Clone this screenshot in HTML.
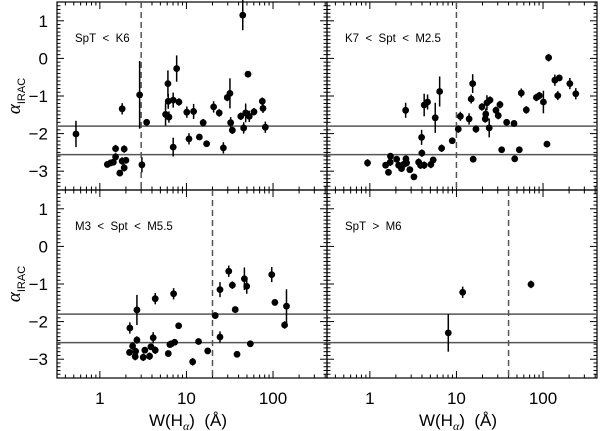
<!DOCTYPE html>
<html><head><meta charset="utf-8"><style>
html,body{margin:0;padding:0;background:#fff;}
svg{display:block;font-family:"Liberation Sans",sans-serif;}
</style></head><body>
<svg id="chart" width="600" height="431" viewBox="0 0 600 431"></svg>
<script>
// ---- data ----
const panelLabels = ["SpT\u00a0\u00a0<\u00a0\u00a0K6", "K7\u00a0\u00a0<\u00a0\u00a0Spt\u00a0\u00a0<\u00a0\u00a0M2.5", "M3\u00a0\u00a0<\u00a0\u00a0Spt\u00a0\u00a0<\u00a0\u00a0M5.5", "SpT\u00a0\u00a0>\u00a0\u00a0M6"];
const cutoffW = [3, 10, 20, 40];
const hLines = [-1.8, -2.56];
const yTickValues = [1, 0, -1, -2, -3];
const xTickValues = [1, 10, 100];
const xTickLabels = ["1", "10", "100"];

const p1W = [0.53,1.22,1.33,1.43,1.52,1.52,1.70,1.81,1.91,1.91,2.0,1.81,2.88,3.06,3.47,5.74,6.11,6.16,6.28,7.03,7.71,8.19,7.03,10.1,10.7,12.1,14.1,15.6,17.1,20.6,23.9,26.7,29.6,31.8,32.4,33.9,42.4,44.7,45.8,48.3,51.4,53.2,60.3,75.2,76.6,81.5];
const p1A = [-2.01,-2.82,-2.78,-2.76,-2.40,-2.62,-3.05,-2.73,-2.91,-2.41,-2.71,-1.34,-0.97,-2.83,-1.70,-1.49,-0.67,-1.14,-1.56,-1.11,-0.27,-1.16,-2.36,-1.43,-2.14,-1.41,-2.09,-1.71,-2.27,-1.29,-1.45,-2.38,-1.04,-0.93,-1.71,-1.91,-1.54,1.15,-1.85,-1.45,-0.42,-1.54,-1.42,-1.14,-1.33,-1.83];
const p1E = [0.35,0.05,0.08,0.05,0.1,0.1,0.05,0.1,0.1,0.1,0.05,0.15,0.9,0.2,0.05,0.3,0.35,0.2,0.15,0.2,0.35,0.1,0.25,0.15,0.15,0.2,0.05,0.1,0.05,0.15,0.1,0.15,0.1,0.4,0.15,0.1,0.1,0.4,0.15,0.25,0.05,0.15,0.1,0.1,0.12,0.15];

const p2W = [0.94,1.52,1.64,1.73,1.72,2.04,2.15,2.32,2.45,2.61,2.59,2.66,2.90,3.23,3.66,3.85,3.96,3.99,4.24,4.24,4.64,5.07,5.39,5.69,6.40,6.74,8.94,10.5,11.1,14.0,14.8,15.4,15.6,16.8,19.7,21.5,21.8,22.5,23.9,24.4,28.6,30.4,31.8,33.3,38.0,46.2,47.1,53.2,56.1,64.1,83.7,90.6,101,111,116,137,148,154,204,239];
const p2A = [-2.78,-2.84,-3.03,-2.60,-2.76,-2.68,-2.84,-2.93,-2.82,-2.67,-1.38,-2.78,-2.96,-3.15,-2.76,-2.84,-2.10,-2.52,-1.24,-2.84,-1.16,-2.82,-2.70,-1.58,-0.88,-2.39,-2.19,-1.88,-1.54,-1.61,-1.08,-0.67,-2.68,-1.88,-1.29,-1.61,-1.48,-1.18,-1.85,-1.11,-1.38,-1.52,-1.23,-2.43,-1.70,-1.73,-2.67,-2.43,-0.92,-1.37,-1.04,-0.99,-1.16,-2.28,0.02,-0.58,-0.99,-0.52,-0.67,-0.94];
const p2E = [0.1,0.05,0.05,0.05,0.1,0.05,0.05,0.05,0.1,0.05,0.2,0.1,0.05,0.05,0.1,0.1,0.2,0.1,0.3,0.1,0.2,0.1,0.05,0.4,0.4,0.1,0.05,0.1,0.12,0.15,0.12,0.25,0.05,0.1,0.1,0.1,0.15,0.2,0.25,0.1,0.1,0.1,0.1,0.05,0.05,0.05,0.05,0.05,0.12,0.1,0.1,0.1,0.3,0.05,0.1,0.15,0.12,0.05,0.15,0.15];

const p3W = [2.20,2.22,2.39,2.56,2.59,2.68,2.68,3.17,3.31,3.75,3.89,4.13,4.36,4.36,6.17,6.44,6.68,7.31,7.11,8.13,11.8,13.8,17.6,21.5,24.4,24.4,30.8,33.9,36.6,38.4,46.7,49.7,54.7,96.6,105,136,143];
const p3A = [-2.82,-2.17,-2.65,-2.93,-2.79,-1.69,-2.49,-2.95,-2.76,-2.92,-2.67,-2.43,-2.76,-1.39,-2.85,-2.61,-2.59,-2.55,-1.26,-2.11,-3.07,-2.53,-2.78,-1.84,-2.41,-1.15,-0.66,-1.03,-1.68,-2.87,-0.86,-1.06,-2.59,-0.75,-1.49,-2.09,-1.59];
const p3E = [0.05,0.15,0.1,0.1,0.05,0.4,0.1,0.1,0.05,0.1,0.05,0.15,0.1,0.15,0.05,0.05,0.05,0.05,0.15,0.05,0.1,0.05,0.05,0.05,0.15,0.2,0.15,0.1,0.05,0.05,0.3,0.2,0.05,0.2,0.05,0.1,0.45];

const p4W = [8.05, 11.8, 72.6];
const p4A = [-2.30, -1.22, -1.01];
const p4E = [0.5, 0.15, 0.1];

const panelData = [[p1W,p1A,p1E],[p2W,p2A,p2E],[p3W,p3A,p3E],[p4W,p4A,p4E]];

// ---- layout ----
const NS = "http://www.w3.org/2000/svg";
const svg = document.getElementById("chart");
const colsX = [57, 327], colW = 270;
const rowsY = [2, 190], rowH = 188;
const xMinLog = Math.log10(0.32), xMaxLog = Math.log10(420);
const yMin = -3.5, yMax = 1.5;

function mk(tag, attrs, parent) {
  const e = document.createElementNS(NS, tag);
  for (const k in attrs) e.setAttribute(k, attrs[k]);
  (parent || svg).appendChild(e);
  return e;
}

panelData.forEach((pd, p) => {
  const col = p % 2, row = Math.floor(p / 2);
  const x0 = colsX[col], y0 = rowsY[row];
  const xS = w => x0 + (Math.log10(w) - xMinLog) / (xMaxLog - xMinLog) * colW;
  const yS = a => y0 + (yMax - a) / (yMax - yMin) * rowH;
  const g = mk("g", {});
  
  

  for (let d = -1; d <= 2; d++) {
    for (let m = 1; m <= 9; m++) {
      const v = m * Math.pow(10, d);
      const lv = Math.log10(v);
      if (lv < xMinLog || lv > xMaxLog) continue;
      const x = xS(v), len = m === 1 ? 7 : 3.5;
      mk("line", {x1:x, x2:x, y1:y0+rowH, y2:y0+rowH-len, stroke:"#000","stroke-width":1}, g);
      mk("line", {x1:x, x2:x, y1:y0, y2:y0+len, stroke:"#000","stroke-width":1}, g);
    }
  }
  for (let i = -35; i <= 15; i++) {
    const v = i / 10, y = yS(v);
    const len = (i % 10 === 0) ? 7 : 3.5;
    mk("line", {x1:x0, x2:x0+len, y1:y, y2:y, stroke:"#000","stroke-width":1}, g);
    mk("line", {x1:x0+colW, x2:x0+colW-len, y1:y, y2:y, stroke:"#000","stroke-width":1}, g);
  }
  const fr = mk("rect", {x:x0, y:y0, width:colW, height:rowH, fill:"none", stroke:"#000","stroke-width":1.2}, g);
  
  

  hLines.forEach(h => {
    const l = mk("line", {x1:x0, x2:x0+colW, y1:yS(h), y2:yS(h), stroke:"#555","stroke-width":1.5}, g);
    
    
  });
  const dl = mk("line", {x1:xS(cutoffW[p]), x2:xS(cutoffW[p]), y1:y0, y2:y0+rowH, stroke:"#555","stroke-width":1.5,"stroke-dasharray":"6,4"}, g);
  
  

  const t = mk("text", {x:x0+18, y:y0+40, "font-size":11.5, fill:"#000"}, g);
  t.textContent = panelLabels[p];
  
  

  const [W, A, E] = pd;
  W.forEach((w, i) => {
    const x = xS(w), y = yS(A[i]);
    const eb = mk("line", {x1:x, x2:x, y1:yS(A[i]+E[i]), y2:yS(A[i]-E[i]), stroke:"#000","stroke-width":1.5}, g);
    
    
    const c = mk("circle", {cx:x, cy:y, r:3.4, fill:"#000"}, g);
    
    
  });

  if (col === 0) {
    yTickValues.forEach(v => {
      const tl = mk("text", {x:48, y:yS(v)+6, "font-size":17, "text-anchor":"end", fill:"#000"}, g);
      tl.textContent = v < 0 ? "\u2212" + Math.abs(v) : String(v);
      
      
    });
    const yt = mk("text", {x:0, y:0, "font-size":17, "text-anchor":"middle", transform:`translate(20,${y0+rowH/2}) rotate(-90)`, fill:"#000"}, g);
    yt.innerHTML = '<tspan font-style="italic" font-family="Liberation Serif, serif" font-size="19">α</tspan><tspan font-size="11" dy="5">IRAC</tspan>';
    
    
  }
  if (row === 1) {
    xTickValues.forEach((v, i) => {
      const tl = mk("text", {x:xS(v), y:404, "font-size":17, "text-anchor":"middle", fill:"#000"}, g);
      tl.textContent = xTickLabels[i];
      
      
    });
    const xt = mk("text", {x:x0+colW/2-4, y:426, "font-size":17, "text-anchor":"middle", fill:"#000"}, g);
    xt.innerHTML = 'W(H<tspan font-style="italic" font-family="Liberation Serif, serif" font-size="12" dy="4">α</tspan><tspan dy="-4">)\u00a0\u00a0(Å)</tspan>';
    
    
  }
});
</script>
</body></html>
